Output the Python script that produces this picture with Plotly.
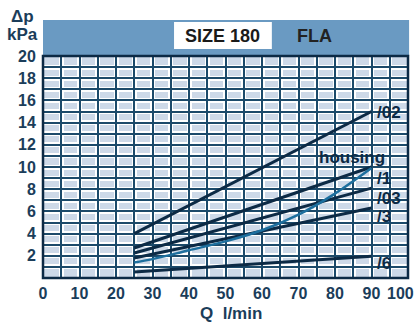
import plotly.graph_objects as go

# ---- data ----
q_lin = [25, 90]
dp_02 = [4.0, 15.0]
dp_1 = [2.7, 10.0]
dp_03 = [2.25, 8.1]
dp_3 = [1.8, 6.3]
dp_6 = [0.55, 1.95]
q_housing = [25, 30, 40, 50, 60, 70, 80, 90]
dp_housing = [1.4, 1.7, 2.5, 3.3, 4.3, 5.7, 7.6, 9.9]

x_ticks = list(range(0, 101, 5))
x_labels = [str(v) if (v % 10 == 0 and v < 100) else "" for v in x_ticks]
y_ticks = list(range(0, 21, 1))
y_labels = [str(v) if (v % 2 == 0 and v > 0) else "" for v in y_ticks]
last_x_label = "100"

line_labels = ["/02", "housing", "/1", "/03", "/3", "/6"]
label_x = [91, 75, 91, 91, 91, 91]
label_y = [14.9, 10.9, 9.0, 7.2, 5.5, 1.35]

NAVY = "#0c2a45"
HOUS = "#1d6f9e"
GRID = "#1c4a6a"
TXT = "#1b3d5a"
FONT = "Liberation Sans"

fig = go.Figure()
for ys in [dp_02, dp_1, dp_03, dp_3, dp_6]:
    fig.add_trace(go.Scatter(x=q_lin, y=ys, mode="lines", line=dict(color=NAVY, width=3),
                             showlegend=False, hoverinfo="skip"))
fig.add_trace(go.Scatter(x=q_housing, y=dp_housing, mode="lines",
                         line=dict(color=HOUS, width=2.5, shape="spline"),
                         showlegend=False, hoverinfo="skip"))
# dummy trace for overlay axes (dark grid on top of white halo)
fig.add_trace(go.Scatter(x=[None], y=[None], xaxis="x2", yaxis="y2", showlegend=False, hoverinfo="skip"))

for t, xv, yv in zip(line_labels, label_x, label_y):
    fig.add_annotation(x=xv, y=yv, text=t, showarrow=False, xanchor="left", yanchor="middle",
                       font=dict(family=FONT, size=17, color=NAVY, weight="bold"))

axis_common = dict(showline=False, zeroline=False, fixedrange=True)
tickfont = dict(family=FONT, size=16, color=TXT, weight="bold")
fig.update_layout(
    width=419, height=326,
    margin=dict(l=43, r=11, t=56, b=48),
    paper_bgcolor="white", plot_bgcolor="#cdd9e8",
    font=dict(family=FONT, size=15, color=TXT),
    xaxis=dict(range=[0, 100], tickvals=x_ticks, ticktext=x_labels, showgrid=True,
               gridcolor="white", gridwidth=5, tickfont=tickfont,
               ticks="outside", ticklen=1, tickcolor="rgba(0,0,0,0)", **axis_common),
    yaxis=dict(range=[0, 20], tickvals=y_ticks, ticktext=y_labels, showgrid=True,
               gridcolor="white", gridwidth=5, tickfont=tickfont,
               ticks="outside", ticklen=3, tickcolor="rgba(0,0,0,0)", **axis_common),
    xaxis2=dict(range=[0, 100], overlaying="x", anchor="y2", tickvals=x_ticks, showticklabels=False,
                showgrid=True, gridcolor=GRID, gridwidth=1.6, ticks="", **axis_common),
    yaxis2=dict(range=[0, 20], overlaying="y", anchor="x2", tickvals=y_ticks, showticklabels=False,
                showgrid=True, gridcolor=GRID, gridwidth=1.6, ticks="", **axis_common),
)
# "100" label nudged left to stay inside the page, as in the reference
fig.add_annotation(xref="paper", yref="paper", x=0.98, y=-0.07, text=last_x_label, showarrow=False,
                   xanchor="center", yanchor="middle", font=tickfont)
# plot border
fig.add_shape(type="rect", xref="paper", yref="paper", x0=0, x1=1, y0=0, y1=1,
              line=dict(color=NAVY, width=2.5), fillcolor="rgba(0,0,0,0)")
# header band
fig.add_shape(type="rect", xref="paper", yref="paper", x0=0, x1=1.003, y0=1.0, y1=1.162,
              line=dict(width=0), fillcolor="#6a9ac2", layer="below")
fig.add_shape(type="rect", xref="paper", yref="paper", x0=0.359, x1=0.627, y0=1.032, y1=1.153,
              line=dict(width=0), fillcolor="white")
fig.add_annotation(xref="paper", yref="paper", x=0.493, y=1.092, text="SIZE 180",
                   showarrow=False, xanchor="center", yanchor="middle",
                   font=dict(family=FONT, size=18, color="#1a1a1a", weight="bold"))
fig.add_annotation(xref="paper", yref="paper", x=0.745, y=1.092, text="FLA",
                   showarrow=False, xanchor="center", yanchor="middle",
                   font=dict(family=FONT, size=18, color="#222222", weight="bold"))
# axis titles
fig.add_annotation(xref="paper", yref="paper", x=-0.055, y=1.176, text="Δp", showarrow=False,
                   xanchor="center", yanchor="middle",
                   font=dict(family=FONT, size=17, color=TXT, weight="bold"))
fig.add_annotation(xref="paper", yref="paper", x=-0.055, y=1.095, text="kPa", showarrow=False,
                   xanchor="center", yanchor="middle",
                   font=dict(family=FONT, size=17, color=TXT, weight="bold"))
fig.add_annotation(xref="paper", yref="paper", x=0.515, y=-0.158, text="Q  l/min", showarrow=False,
                   xanchor="center", yanchor="middle",
                   font=dict(family=FONT, size=17, color=TXT, weight="bold"))

fig.write_html("out.html", config={"displayModeBar": False},
               post_script="document.body.style.margin='0px';")
